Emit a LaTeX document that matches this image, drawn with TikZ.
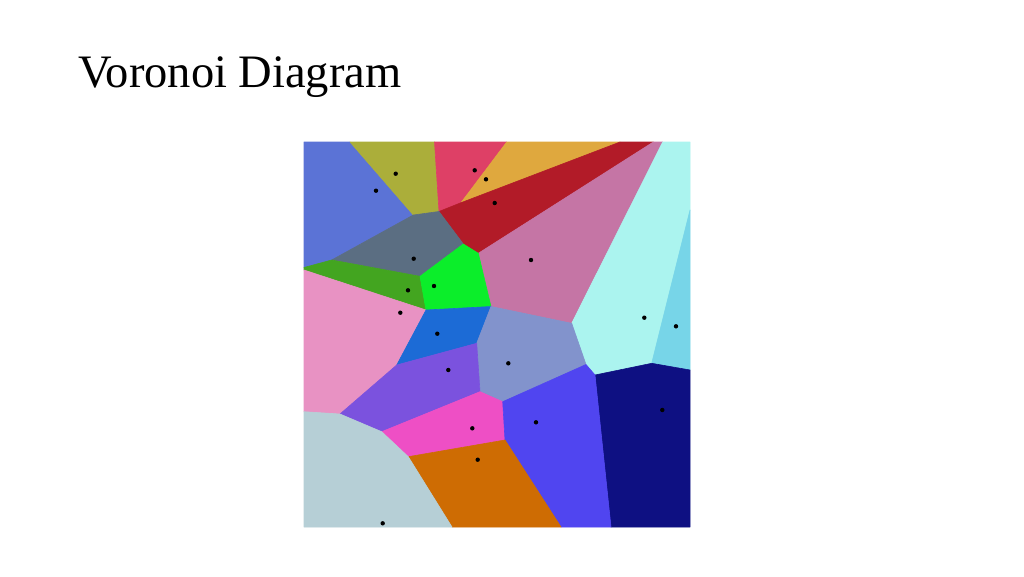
\documentclass[tikz,border=0pt]{standalone}
\usepackage{fontspec}
\setmainfont{Liberation Serif}
\definecolor{cBlueTL}{HTML}{5B73D6}
\definecolor{cOlive}{HTML}{ABAE3A}
\definecolor{cRedPink}{HTML}{DE4066}
\definecolor{cOrangeTop}{HTML}{DFA83E}
\definecolor{cDarkRed}{HTML}{B21B28}
\definecolor{cSlate}{HTML}{5B6E82}
\definecolor{cMauve}{HTML}{C575A5}
\definecolor{cLightCyan}{HTML}{ABF4EF}
\definecolor{cCyan}{HTML}{77D5E8}
\definecolor{cNavy}{HTML}{0E1082}
\definecolor{cDarkGreen}{HTML}{43A520}
\definecolor{cGreen}{HTML}{0BEE2A}
\definecolor{cPink}{HTML}{E892C3}
\definecolor{cBlueMid}{HTML}{1C6BD6}
\definecolor{cPeri}{HTML}{8293CC}
\definecolor{cPurple}{HTML}{7B52DE}
\definecolor{cMagenta}{HTML}{EE4FC5}
\definecolor{cBlueV}{HTML}{5045F0}
\definecolor{cGray}{HTML}{B6CFD6}
\definecolor{cOrangeBot}{HTML}{CE6C03}
\begin{document}
\begin{tikzpicture}[x=1pt,y=-1pt,
  cell/.style={fill=#1,draw=#1,line width=0.6pt,line join=round},
  site/.style={circle,fill=black,inner sep=0pt,minimum size=4.4pt}]
\useasboundingbox[fill=white] (0,0) rectangle (1024,576);
\node[anchor=base west,inner sep=0pt,font=\fontsize{46.5}{56}\selectfont] (title) at (78,87) {Voronoi Diagram};
% boundary points
\coordinate (A) at (304,142); \coordinate (B) at (690,142);
\coordinate (C) at (690,527); \coordinate (D) at (304,527);
\coordinate (t1) at (350,142); \coordinate (t2) at (434.5,142);
\coordinate (t3) at (506.7,142); \coordinate (t4) at (620,142);
\coordinate (t5) at (653.3,142); \coordinate (t6) at (662.7,142);
\coordinate (r1) at (690,210); \coordinate (r2) at (690,370);
\coordinate (b1) at (611,527); \coordinate (b2) at (561,527); \coordinate (b3) at (452,527);
\coordinate (l1) at (304,411.7); \coordinate (l2) at (304,270); \coordinate (l3) at (304,267.5);
% interior vertices
\coordinate (v1) at (413.3,215); \coordinate (v2) at (439,211.5);
\coordinate (v4) at (461,202.7); \coordinate (v5) at (463.3,244);
\coordinate (v6) at (478.3,253.3); \coordinate (v7) at (491,306.5);
\coordinate (v8) at (426,310); \coordinate (v9) at (420,276.3);
\coordinate (v10) at (331.7,260); \coordinate (v11) at (396.7,365);
\coordinate (v12) at (476.7,343.3); \coordinate (v13) at (480,391.7);
\coordinate (v14) at (381.7,431.7); \coordinate (v15) at (340,414);
\coordinate (v16) at (408.3,456.7); \coordinate (v17) at (505,440);
\coordinate (v18) at (502.7,401.7); \coordinate (v19) at (586,364.5);
\coordinate (v20) at (571.7,323.3); \coordinate (v21) at (595,375);
\coordinate (v22) at (651.7,363.3);
% cells
\draw[cell=cBlueTL] (A) -- (t1) -- (v1) -- (v10) -- (l3) -- cycle;
\draw[cell=cOlive] (t1) -- (t2) -- (v2) -- (v1) -- cycle;
\draw[cell=cRedPink] (t2) -- (t3) -- (v4) -- (v2) -- cycle;
\draw[cell=cOrangeTop] (t3) -- (t4) -- (v4) -- cycle;
\draw[cell=cDarkRed] (v2) -- (v4) -- (t4) -- (t5) -- (v6) -- (v5) -- cycle;
\draw[cell=cSlate] (v1) -- (v2) -- (v5) -- (v9) -- (v10) -- cycle;
\draw[cell=cMauve] (t5) -- (t6) -- (v20) -- (v7) -- (v6) -- cycle;
\draw[cell=cLightCyan] (t6) -- (B) -- (r1) -- (v22) -- (v21) -- (v19) -- (v20) -- cycle;
\draw[cell=cCyan] (r1) -- (r2) -- (v22) -- cycle;
\draw[cell=cNavy] (v22) -- (r2) -- (C) -- (b1) -- (v21) -- cycle;
\draw[cell=cDarkGreen] (l3) -- (v10) -- (v9) -- (v8) -- (l2) -- cycle;
\draw[cell=cGreen] (v9) -- (v5) -- (v6) -- (v7) -- (v8) -- cycle;
\draw[cell=cPink] (l2) -- (v8) -- (v11) -- (v15) -- (l1) -- cycle;
\draw[cell=cBlueMid] (v8) -- (v7) -- (v12) -- (v11) -- cycle;
\draw[cell=cPeri] (v7) -- (v20) -- (v19) -- (v18) -- (v13) -- (v12) -- cycle;
\draw[cell=cPurple] (v11) -- (v12) -- (v13) -- (v14) -- (v15) -- cycle;
\draw[cell=cMagenta] (v14) -- (v13) -- (v18) -- (v17) -- (v16) -- cycle;
\draw[cell=cBlueV] (v18) -- (v19) -- (v21) -- (b1) -- (b2) -- (v17) -- cycle;
\draw[cell=cOrangeBot] (v16) -- (v17) -- (b2) -- (b3) -- cycle;
\draw[cell=cGray] (l1) -- (v15) -- (v14) -- (v16) -- (b3) -- (D) -- cycle;
% sites
\node[site] (s1) at (395.7,173.7) {};
\node[site] (s2) at (376,190.7) {};
\node[site] (s3) at (474.7,170.3) {};
\node[site] (s4) at (486,179.3) {};
\node[site] (s5) at (494.7,203) {};
\node[site] (s6) at (413.7,258.7) {};
\node[site] (s7) at (434,286) {};
\node[site] (s8) at (408,290.3) {};
\node[site] (s9) at (400.3,312.7) {};
\node[site] (s10) at (437.3,333.7) {};
\node[site] (s11) at (531,260) {};
\node[site] (s12) at (644.3,317.7) {};
\node[site] (s13) at (676,326.3) {};
\node[site] (s14) at (448.3,370) {};
\node[site] (s15) at (472.3,428.3) {};
\node[site] (s16) at (477.7,459.7) {};
\node[site] (s17) at (382.7,523.3) {};
\node[site] (s18) at (508.3,363.3) {};
\node[site] (s19) at (536,422.3) {};
\node[site] (s20) at (662.3,410) {};
\end{tikzpicture}
\end{document}
